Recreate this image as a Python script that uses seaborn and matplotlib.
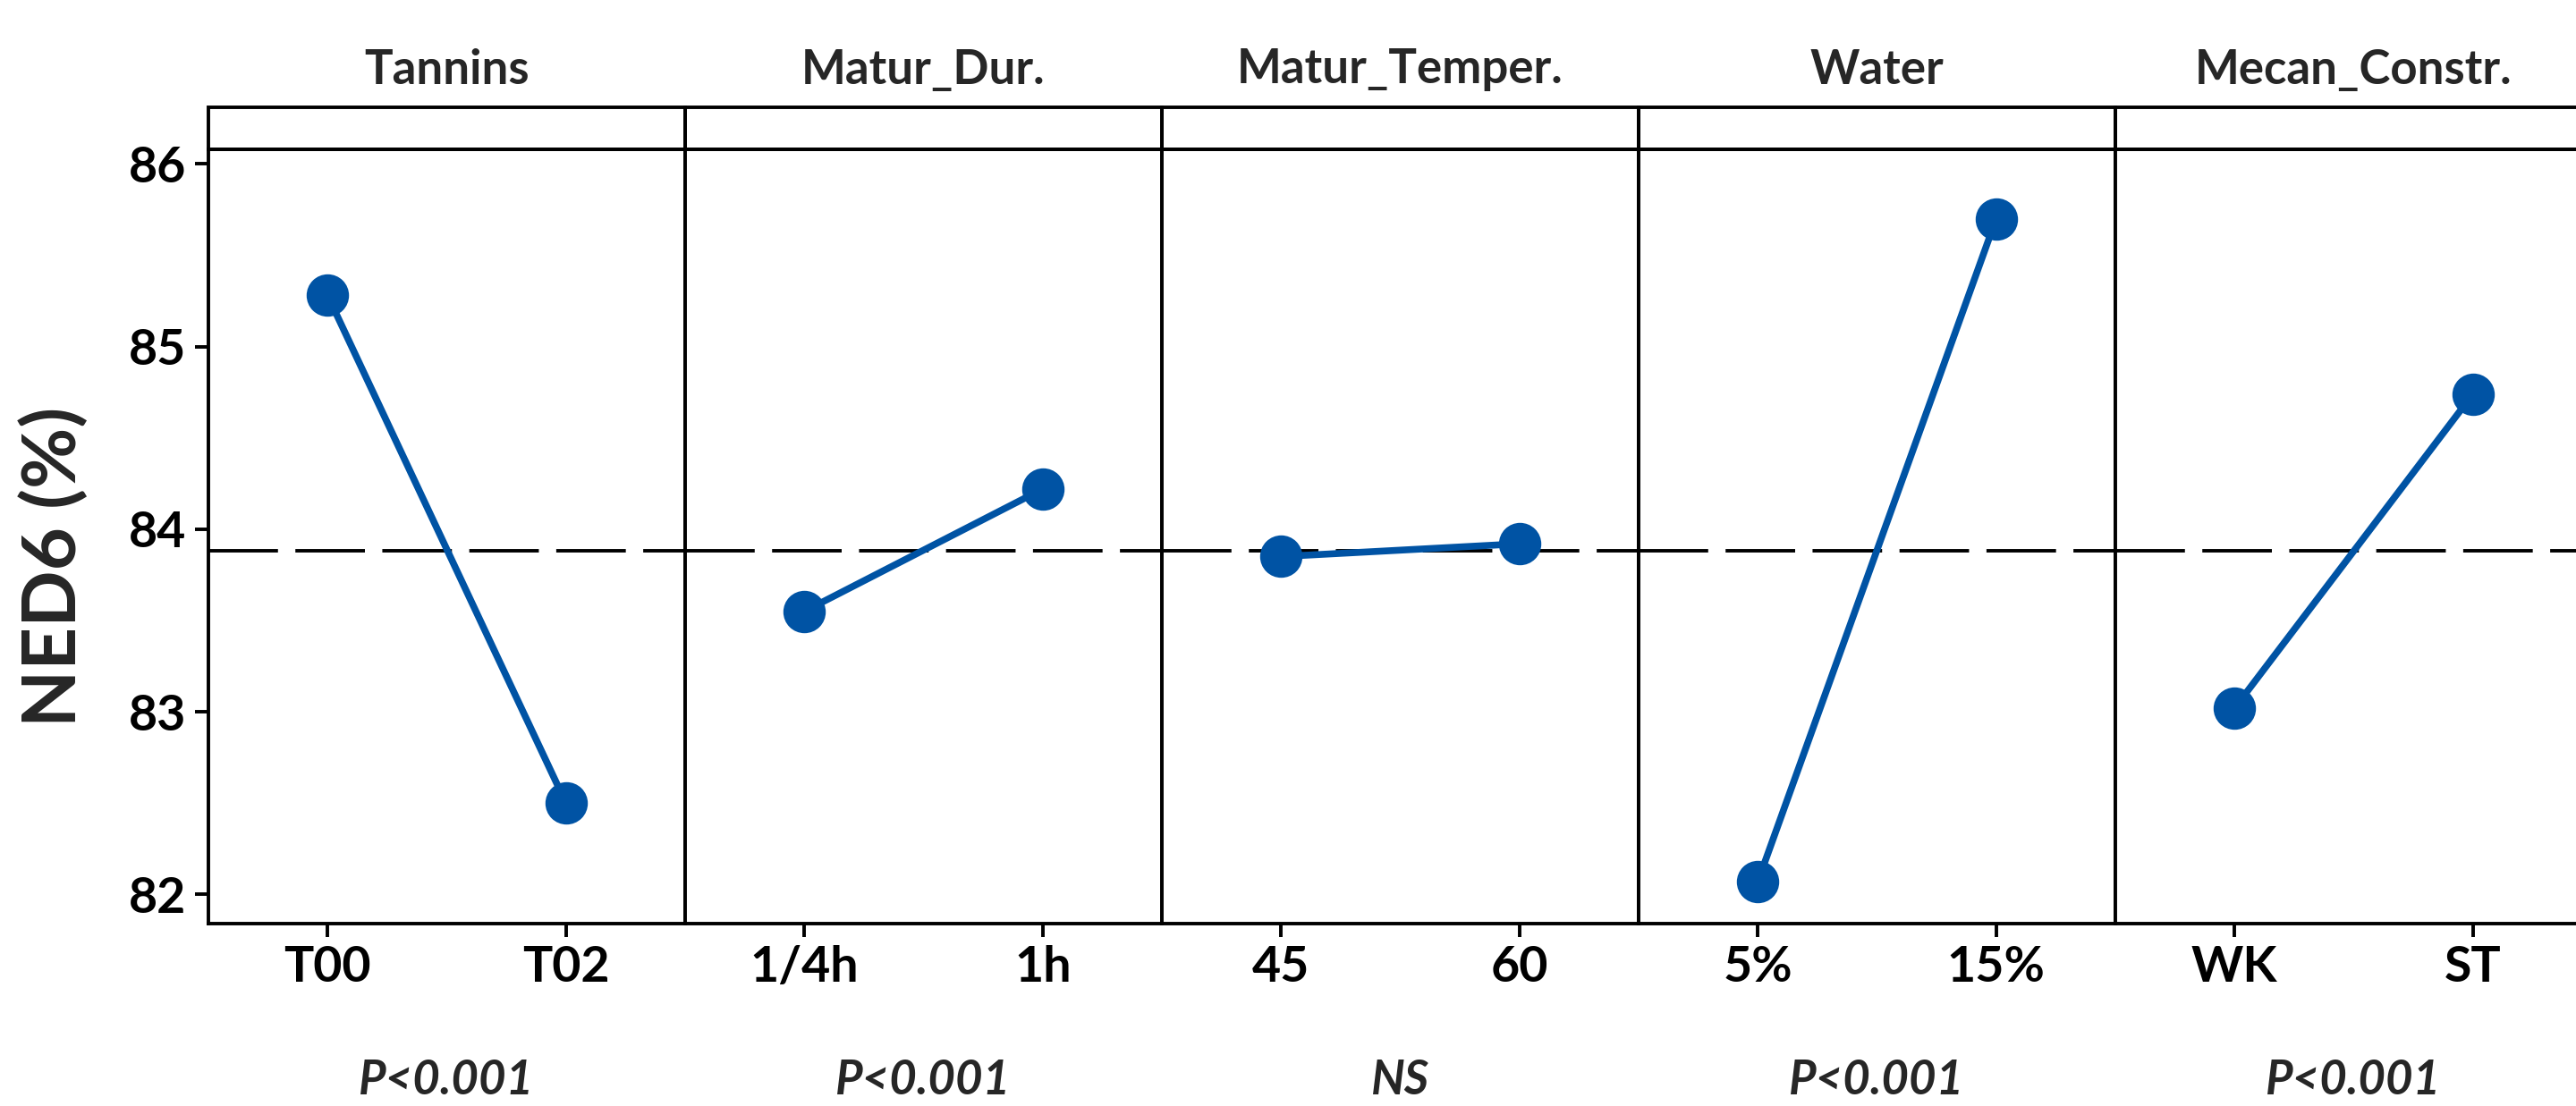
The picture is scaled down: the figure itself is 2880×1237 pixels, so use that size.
import matplotlib
matplotlib.use("Agg")
import matplotlib.pyplot as plt
from matplotlib.patches import Rectangle
import seaborn as sns
import pandas as pd

# ---- data ----
factors = ["Tannins", "Matur_Dur.", "Matur_Temper.", "Water", "Mecan_Constr."]
levels = [["T00", "T02"], ["1/4h", "1h"], ["45", "60"], ["5%", "15%"], ["WK", "ST"]]
means = [[85.28, 82.50], [83.55, 84.22], [83.85, 83.92], [82.07, 85.70], [83.02, 84.74]]
p_labels = ["P<0.001", "P<0.001", "NS", "P<0.001", "P<0.001"]
grand_mean = 83.88
y_ticks = [82, 83, 84, 85, 86]
y_label = "NED6 (%)"

sns.set_theme(style="ticks")
plt.rcParams["font.family"] = ["Lato", "DejaVu Sans"]
plt.rcParams["font.weight"] = "bold"

BLUE = "#0053A4"
W, H = 2880, 1237
fig = plt.figure(figsize=(W / 100, H / 100), dpi=100)

left_px, panel_w = 233, 533
top_px, bottom_px = 167, 1033
ax_h = (bottom_px - top_px) / H
strip_px = 47
LW = 2.8

axes = []
for i, (fac, lev, m, p) in enumerate(zip(factors, levels, means, p_labels)):
    x0 = (left_px + i * panel_w) / W
    ax = fig.add_axes([x0, 1 - bottom_px / H, panel_w / W, ax_h],
                      sharey=axes[0] if axes else None)
    axes.append(ax)
    df = pd.DataFrame({"level": lev, "value": m})
    sns.pointplot(data=df, x="level", y="value", color=BLUE, ax=ax,
                  errorbar=None, markersize=30, linewidth=5.5)
    ax.axhline(grand_mean, color="black", lw=2.8, dashes=(20, 5), zorder=0)
    ax.set_xlim(-0.5, 1.5)
    ax.set_ylim(81.84, 86.08)
    ax.set_xlabel("")
    ax.set_ylabel("")
    for s in ax.spines.values():
        s.set_visible(True)
        s.set_linewidth(LW)
        s.set_color("black")
    ax.tick_params(axis="x", length=11, width=LW, pad=6, labelsize=40, colors="black")
    for t in ax.get_xticklabels():
        t.set_fontweight("bold")
    if i == 0:
        ax.set_yticks(y_ticks)
        ax.tick_params(axis="y", length=11, width=LW, pad=7, labelsize=40, colors="black")
        for t in ax.get_yticklabels():
            t.set_fontweight("bold")
    else:
        ax.tick_params(axis="y", left=False, labelleft=False)
    # strip box above each panel
    sh = strip_px / (bottom_px - top_px)
    ax.add_patch(Rectangle((0, 1), 1, sh, transform=ax.transAxes, fill=False,
                           lw=LW, edgecolor="black", clip_on=False))
    ax.text(0.5, 1 + (top_px - 78) / (bottom_px - top_px), fac,
            transform=ax.transAxes, ha="center", va="center",
            fontsize=38, fontweight="bold")
    ax.text(0.5, -(1208 - bottom_px) / (bottom_px - top_px), p,
            transform=ax.transAxes, ha="center", va="center",
            fontsize=38, fontweight="bold", fontstyle="italic")

fig.text(60 / W, 1 - 634 / H, y_label, rotation=90, ha="center", va="center",
         fontsize=60, fontweight="bold")

fig.savefig("out.png", dpi=100, facecolor="white")
